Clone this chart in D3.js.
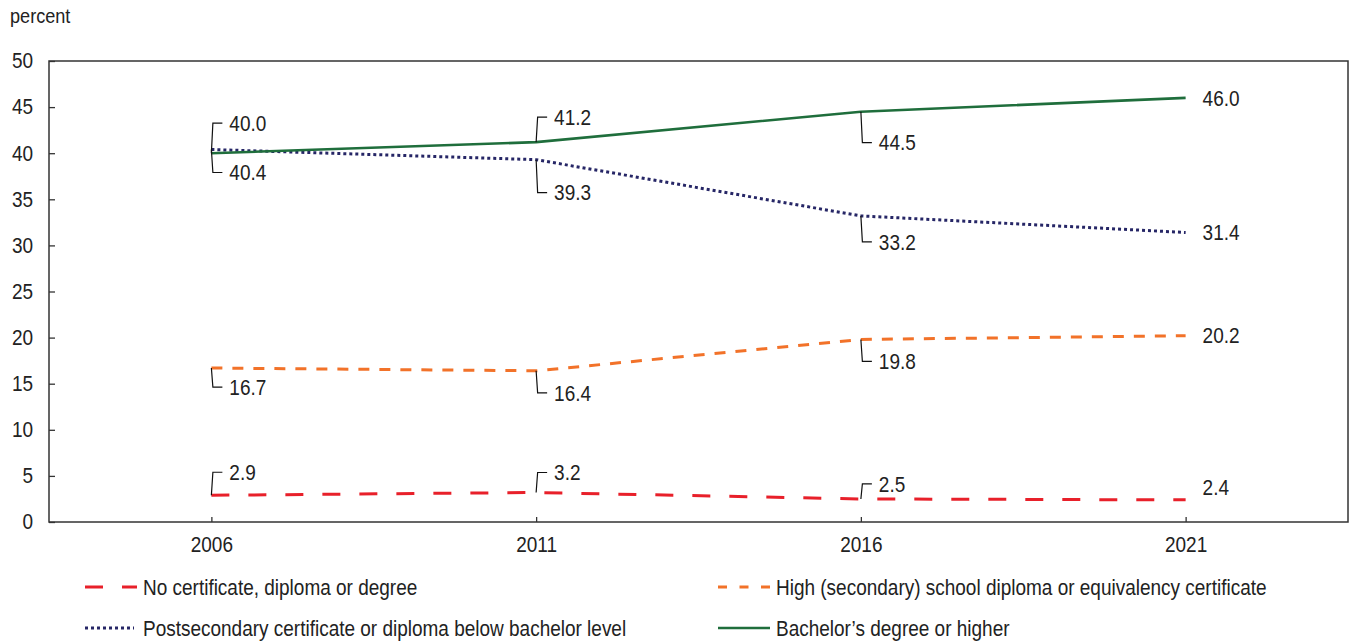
<!DOCTYPE html>
<html>
<head>
<meta charset="utf-8">
<script src="https://cdn.jsdelivr.net/npm/d3@7"></script>
<style>
  body { margin: 0; background: #fff; }
  svg text { font-family: "Liberation Sans", Arial, sans-serif; fill: #222; }
</style>
</head>
<body>
<svg id="chart" width="1349" height="641"></svg>
<script>
const years = ["2006", "2011", "2016", "2021"];
const seriesNames = [
  "No certificate, diploma or degree",
  "High (secondary) school diploma or equivalency certificate",
  "Postsecondary certificate or diploma below bachelor level",
  "Bachelor\u2019s degree or higher"
];
const noCertificate = [2.9, 3.2, 2.5, 2.4];
const highSchool = [16.7, 16.4, 19.8, 20.2];
const postsecondary = [40.4, 39.3, 33.2, 31.4];
const bachelor = [40.0, 41.2, 44.5, 46.0];
const yTicks = [0, 5, 10, 15, 20, 25, 30, 35, 40, 45, 50];

const seriesValues = [noCertificate, highSchool, postsecondary, bachelor];
const styles = [
  { color: "#e8202a", width: 3, dash: "18,19", legendDash: "18,19" },
  { color: "#f27229", width: 3, dash: "11,10", legendDash: "9,12.5" },
  { color: "#262666", width: 3, dash: "3,3", legendDash: "3,3" },
  { color: "#1f6e3c", width: 2.6, dash: null, legendDash: null }
];
// label layout: vertical offset of value label from its point ("r" = to the right)
const labelLayout = [
  [-23, -20, -15, "r-13"],
  [19, 22, 22, "r0"],
  [23, 33, 26, "r0"],
  [-30, -25, 31, "r0"]
];

const svg = d3.select("#chart");
const mLeft = 49, mRight = 1348, mTop = 61, mBottom = 522;
const fs = 21.5;
const sx = 19 / 21.5; // horizontal condensation of the typeface

const x = d3.scalePoint().domain(years).range([mLeft, mRight]).padding(0.5);
const y = d3.scaleLinear().domain([0, 50]).range([mBottom, mTop]);

// frame
svg.append("rect").attr("x", mLeft).attr("y", mTop).attr("width", mRight - mLeft).attr("height", mBottom - mTop)
  .attr("fill", "none").attr("stroke", "#333").attr("stroke-width", 1.5);

// y axis
const yAxis = svg.append("g").attr("transform", `translate(${mLeft},0)`)
  .call(d3.axisLeft(y).tickValues(yTicks).tickSize(-6).tickPadding(16).tickFormat(d3.format("d")));
yAxis.select(".domain").remove();
yAxis.selectAll("line").attr("stroke", "#333").attr("stroke-width", 1.3);
yAxis.selectAll("text").attr("font-size", fs).attr("fill", "#222").style("font-family", null);

// x axis
const xAxis = svg.append("g").attr("transform", `translate(0,${mBottom})`)
  .call(d3.axisBottom(x).tickSize(-5).tickPadding(15));
xAxis.select(".domain").remove();
xAxis.selectAll("line").attr("stroke", "#333").attr("stroke-width", 1.3);
xAxis.selectAll("text").attr("font-size", fs).attr("fill", "#222").attr("dy", "0.71em").style("font-family", null);

svg.append("text").attr("x", 10).attr("y", 23).attr("font-size", 20.5).text("percent");

// lines
const line = d3.line().x((d, i) => x(years[i])).y(d => y(d));
seriesValues.forEach((vals, s) => {
  svg.append("path").datum(vals).attr("d", line)
    .attr("fill", "none").attr("stroke", styles[s].color)
    .attr("stroke-width", styles[s].width)
    .attr("stroke-dasharray", styles[s].dash);
});

// labels with leaders
seriesValues.forEach((vals, s) => {
  vals.forEach((v, i) => {
    const px = x(years[i]), py = y(v);
    const lay = labelLayout[s][i];
    if (typeof lay === "string") {
      const dy = +lay.slice(1);
      svg.append("text").attr("x", px + 17).attr("y", py + dy).attr("dy", "0.36em")
        .attr("font-size", fs).text(v.toFixed(1));
    } else {
      const ly = py + lay;
      svg.append("polyline")
        .attr("points", `${px},${py} ${px + 1.5},${ly} ${px + 11},${ly}`)
        .attr("fill", "none").attr("stroke", "#111").attr("stroke-width", 1.2);
      svg.append("text").attr("x", px + 18).attr("y", ly).attr("dy", "0.36em")
        .attr("font-size", fs).text(v.toFixed(1));
    }
  });
});

// legend
const legendPos = [
  { x: 85, y: 587, w: 52, tx: 143 },
  { x: 718, y: 587, w: 52, tx: 776 },
  { x: 85, y: 628, w: 49, tx: 143 },
  { x: 718, y: 628, w: 52, tx: 776 }
];
seriesNames.forEach((name, s) => {
  const p = legendPos[s];
  svg.append("line").attr("x1", p.x).attr("x2", p.x + p.w).attr("y1", p.y).attr("y2", p.y)
    .attr("stroke", styles[s].color).attr("stroke-width", styles[s].width)
    .attr("stroke-dasharray", styles[s].legendDash);
  svg.append("text").attr("x", p.tx).attr("y", p.y).attr("dy", "0.36em")
    .attr("font-size", fs).text(name);
});

// condense all text horizontally
svg.selectAll("text").each(function () {
  const t = d3.select(this);
  const tx = +t.attr("x") || 0;
  t.attr("x", tx / sx).attr("transform", `scale(${sx},1)`);
});
</script>
</body>
</html>
